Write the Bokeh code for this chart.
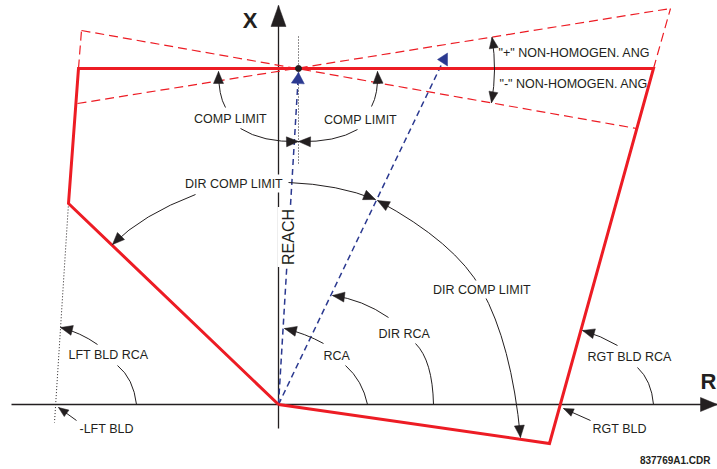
import math
from bokeh.plotting import figure
from bokeh.models import Range1d, ColumnDataSource, Label
from bokeh.core.properties import value
from bokeh.embed import file_html
from bokeh.resources import INLINE

# ---------------- data (R-X impedance plane, origin at relay location) ----------------
# quadrilateral characteristic (solid red)
quad_r = [0, -210, -200, 375, 271, 0]
quad_x = [0, 201, 336, 336, -39, 0]

# reach point
reach_r = [20]
reach_x = [336]

# tilted reach lines (+/- non-homogeneous angle) and blinder extensions (dashed red)
tilt_r = [[-197, 358], [-201, 392], [-200, -197], [375, 392]]
tilt_x = [[374, 276], [301, 396], [336, 374], [336, 396]]

# dotted construction lines
dot_r = [[20, 20], [-210, -224]]
dot_x = [[368, 240], [201, -18]]

# blue dashed vectors: RCA and DIR RCA
vec_r = [[0, 20], [0, 163]]
vec_x = [[0, 332], [0, 340]]
dir_head_tip = (159, 345)

# axes
axis_r = [[-267, 439], [0, 0]]
axis_x = [[0, 0], [-24, 399]]

# curved dimension arrows (quadratic curves); head=1 -> arrow head at end
curve_x0 = [-53, -38, 79, 93, -83, 10, 45, 67, 110, 137, -181, -161, 339, 359, 203, 203]
curve_y0 = [297, 276, 275, 298, 210, 222, 61, 39, 87, 61, 60, 39, 59, 37, 115, 115]
curve_cx = [-60, -16, 57, 100, -136, 60, 27, 84, 84, 154, -198, -145, 322, 373, 177, 233]
curve_cy = [309, 262, 262, 311, 190, 220, 71, 24, 105, 44, 72, 26, 69, 24, 162, 61]
curve_x1 = [-60, 20, 20, 99, -166, 97, 6, 89, 54, 155, -218, -142, 304, 375, 99, 242]
curve_y1 = [333, 263, 263, 333, 160, 205, 76, 0, 109, 0, 77, 0, 74, 0, 204, -33]
curve_head = [1, 1, 1, 1, 1, 1, 1, 0, 1, 0, 1, 0, 1, 0, 1, 1]

# straight pointer arrows
seg_x0 = [-202, 312]
seg_y0 = [-16, -16]
seg_x1 = [-220, 285]
seg_y1 = [-3, -4]

# non-homogeneous angle arc radius (around reach point)
nh_radius = 196

# texts
center_text = ["COMP LIMIT", "COMP LIMIT"]
center_r = [-48, 82]
center_x = [286, 285]

left_text = ['"+" NON-HOMOGEN. ANG', '"-" NON-HOMOGEN. ANG', "RCA", "DIR RCA",
             "LFT BLD RCA", "-LFT BLD", "RGT BLD RCA", "RGT BLD"]
left_r = [220, 221, 45, 100, -210, -199, 309, 314]
left_x = [352, 321, 49, 71, 50, -24, 48, -24]

masked_text = ["DIR COMP LIMIT", "DIR COMP LIMIT", "REACH"]
masked_r = [-44.5, 203.5, 9.5]
masked_x = [221, 115, 167.5]
masked_angle = [0, 0, 90]
masked_size = ["12.5px", "12.5px", "16px"]

# ---------------- styles ----------------
RED = "#ed1c24"
BLUE = "#2b3990"
INK = "#231f20"
FONT = "Liberation Sans"

p = figure(width=717, height=469, x_range=Range1d(-278, 439), y_range=Range1d(-65, 404),
           output_backend="svg", toolbar_location=None, min_border=0,
           x_axis_type=None, y_axis_type=None)
p.grid.visible = False
p.outline_line_color = None
p.background_fill_color = "white"


def head(tip, frm, length, width):
    dx, dy = tip[0] - frm[0], tip[1] - frm[1]
    n = math.hypot(dx, dy)
    ux, uy = dx / n, dy / n
    bx, by = tip[0] - ux * length, tip[1] - uy * length
    px, py = -uy * width / 2, ux * width / 2
    return [tip[0], bx + px, bx - px], [tip[1], by + py, by - py]


# axes
p.multi_line(axis_r, axis_x, line_color=INK, line_width=1.3)

# dashed red tilted lines
p.multi_line(tilt_r, tilt_x, line_color=RED, line_width=1.2, line_dash="9 5")

# dotted black lines
p.multi_line(dot_r, dot_x, line_color=INK, line_width=1, line_dash="1 2")

# blue vectors
p.multi_line(vec_r, vec_x, line_color=BLUE, line_width=1.5, line_dash="6 4")

# characteristic
p.line(quad_r, quad_x, line_color=RED, line_width=3, line_join="miter")

# reach point
p.scatter(reach_r, reach_x, size=6, color=INK)

# curves
src = ColumnDataSource(dict(x0=curve_x0, y0=curve_y0, cx=curve_cx, cy=curve_cy,
                            x1=curve_x1, y1=curve_y1))
p.quadratic(x0="x0", y0="y0", x1="x1", y1="y1", cx="cx", cy="cy", source=src,
            line_color=INK, line_width=1)
p.segment(seg_x0, seg_y0, seg_x1, seg_y1, line_color=INK, line_width=1)

# non-homogeneous angle arc
a_top = math.atan2(tilt_x[1][1] - reach_x[0], tilt_r[1][1] - reach_r[0])
a_bot = math.atan2(tilt_x[0][1] - reach_x[0], tilt_r[0][1] - reach_r[0])
p.arc(x=reach_r[0], y=reach_x[0], radius=nh_radius, start_angle=a_bot, end_angle=a_top,
      line_color=INK, line_width=1)

# arrow heads (black)
hx, hy = [], []
for i, h in enumerate(curve_head):
    if h:
        xs, ys = head((curve_x1[i], curve_y1[i]), (curve_cx[i], curve_cy[i]), 12, 10)
        hx.append(xs); hy.append(ys)
for i in range(len(seg_x0)):
    xs, ys = head((seg_x1[i], seg_y1[i]), (seg_x0[i], seg_y0[i]), 10, 8)
    hx.append(xs); hy.append(ys)
for ang, sgn in ((a_top, 1), (a_bot, -1)):
    tip = (reach_r[0] + nh_radius * math.cos(ang), reach_x[0] + nh_radius * math.sin(ang))
    frm = (tip[0] + sgn * math.sin(ang) * 10, tip[1] - sgn * math.cos(ang) * 10)
    xs, ys = head(tip, frm, 11, 9)
    hx.append(xs); hy.append(ys)
# axis heads
xs, ys = head((axis_r[1][1], axis_x[1][1]), (axis_r[1][0], axis_x[1][0]), 21, 15)
hx.append(xs); hy.append(ys)
xs, ys = head((axis_r[0][1], axis_x[0][1]), (axis_r[0][0], axis_x[0][0]), 17, 14)
hx.append(xs); hy.append(ys)
p.patches(hx, hy, fill_color=INK, line_color=INK, line_width=0.5)

# blue heads
bx, by = [], []
xs, ys = head((vec_r[0][1], vec_x[0][1]), (vec_r[0][0], vec_x[0][0]), 11, 13)
bx.append(xs); by.append(ys)
xs, ys = head(dir_head_tip, (dir_head_tip[0] + 10, dir_head_tip[1]), 10, 13)
bx.append(xs); by.append(ys)
p.patches(bx, by, fill_color=BLUE, line_color=BLUE, line_width=0.5)

# texts
p.text(center_r, center_x, text=center_text, text_align="center", text_baseline="middle",
       text_font=value(FONT), text_font_size=value("12.5px"), text_color=INK)
p.text(left_r, left_x, text=left_text, text_align="left", text_baseline="middle",
       text_font=value(FONT), text_font_size=value("12.5px"), text_color=INK)

for t, r, x, a, s in zip(masked_text, masked_r, masked_x, masked_angle, masked_size):
    p.add_layout(Label(x=r, y=x, text=t, angle=a, angle_units="deg",
                       text_align="center", text_baseline="middle",
                       text_font=FONT, text_font_size=s, text_color=INK,
                       background_fill_color="white", padding=2))

p.text([-28.5], [384], text=["X"], text_align="center", text_baseline="middle",
       text_font=value(FONT), text_font_size=value("22px"), text_font_style="bold",
       text_color=INK)
p.text([438], [23], text=["R"], text_align="right", text_baseline="middle",
       text_font=value(FONT), text_font_size=value("22px"), text_font_style="bold",
       text_color=INK)
p.text([432], [-56], text=["837769A1.CDR"], text_align="right", text_baseline="middle",
       text_font=value(FONT), text_font_size=value("10px"), text_font_style="bold",
       text_color=INK)

open("out.html", "w").write(file_html(p, INLINE))
